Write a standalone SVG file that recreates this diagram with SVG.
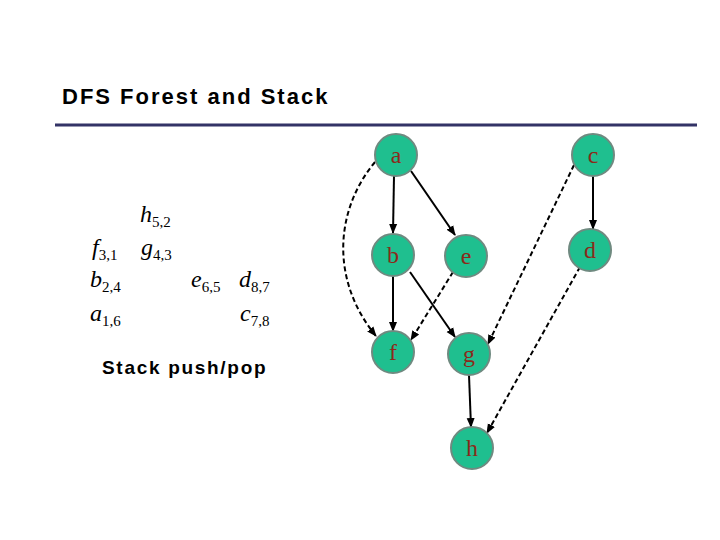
<svg xmlns="http://www.w3.org/2000/svg" width="720" height="540" viewBox="0 0 720 540">
<style>
.n{fill:#1fbf8f;stroke:#6f8a80;stroke-width:2}
.nt{font-family:"Liberation Serif",serif;font-size:24px;fill:#8b2a1a;text-anchor:middle}
.s{stroke:#000;stroke-width:2;fill:none;marker-end:url(#ar)}
.d{stroke:#000;stroke-width:2;fill:none;stroke-dasharray:5,3;marker-end:url(#ar)}
.m{font-family:"Liberation Serif",serif;font-style:italic;font-size:24px}
.sub{font-style:normal;font-size:15px}
</style>
<defs><marker id="ar" markerWidth="10" markerHeight="10" refX="9" refY="5" orient="auto" markerUnits="userSpaceOnUse"><path d="M0,1 L10,5 L0,9 z" fill="#000"/></marker></defs>
<rect width="720" height="540" fill="#fff"/>
<text x="62" y="104" font-family="Liberation Sans,sans-serif" font-weight="bold" font-size="22" letter-spacing="2">DFS Forest and Stack</text>
<line x1="55" y1="125" x2="697" y2="125" stroke="#333366" stroke-width="3"/>
<g id="stack" class="m">
<text x="140" y="222">h<tspan class="sub" dy="5">5,2</tspan></text>
<text x="92" y="255">f<tspan class="sub" dy="5">3,1</tspan></text>
<text x="141" y="255">g<tspan class="sub" dy="5">4,3</tspan></text>
<text x="90" y="287">b<tspan class="sub" dy="5">2,4</tspan></text>
<text x="191" y="287">e<tspan class="sub" dy="5">6,5</tspan></text>
<text x="239" y="287">d<tspan class="sub" dy="5">8,7</tspan></text>
<text x="90" y="321">a<tspan class="sub" dy="5">1,6</tspan></text>
<text x="240" y="321">c<tspan class="sub" dy="5">7,8</tspan></text>
</g>
<text x="102" y="374" font-family="Liberation Sans,sans-serif" font-weight="bold" font-size="19" letter-spacing="1.7">Stack push/pop</text>
<g id="connectors">
<line class="s" x1="394" y1="176" x2="393" y2="233"/>
<line class="s" x1="411" y1="171" x2="455" y2="235"/>
<line class="s" x1="410" y1="272" x2="455" y2="337"/>
<line class="s" x1="593" y1="176" x2="593" y2="229"/>
<line class="s" x1="469" y1="375" x2="471" y2="427"/>
<line class="s" x1="393" y1="276" x2="393" y2="331"/>
<path class="d" d="M375,162 C335,210 330,280 376,336"/>
<line class="d" x1="453" y1="272" x2="411" y2="340"/>
<line class="d" x1="574" y1="165" x2="488" y2="344"/>
<line class="d" x1="580" y1="267" x2="487" y2="433"/>
</g>
<g id="a"><circle class="n" cx="396" cy="155" r="21"/><text class="nt" x="396" y="163">a</text></g>
<g id="c"><circle class="n" cx="593" cy="155" r="21"/><text class="nt" x="593" y="163">c</text></g>
<g id="b"><circle class="n" cx="393" cy="255" r="21"/><text class="nt" x="393" y="263">b</text></g>
<g id="e"><circle class="n" cx="466" cy="256" r="21"/><text class="nt" x="466" y="264">e</text></g>
<g id="d"><circle class="n" cx="590" cy="250" r="21"/><text class="nt" x="590" y="258">d</text></g>
<g id="f"><circle class="n" cx="393" cy="352" r="21"/><text class="nt" x="393" y="360">f</text></g>
<g id="g"><circle class="n" cx="469" cy="354" r="21"/><text class="nt" x="469" y="362">g</text></g>
<g id="h"><circle class="n" cx="472" cy="448" r="21"/><text class="nt" x="472" y="456">h</text></g>
</svg>
